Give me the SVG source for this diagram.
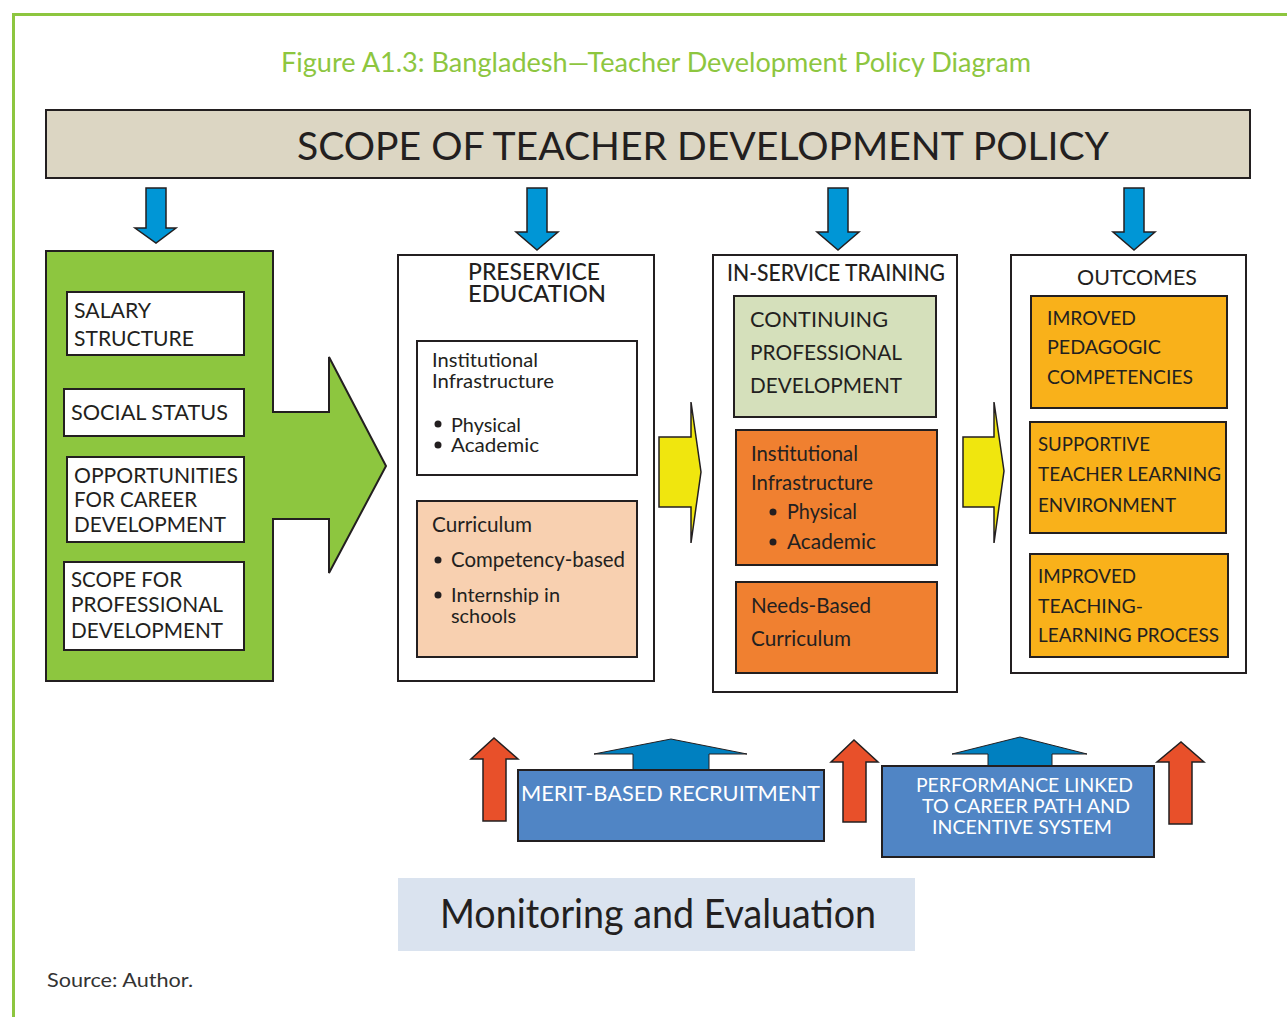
<svg xmlns="http://www.w3.org/2000/svg" width="1287" height="1017" viewBox="0 0 1287 1017">
<style>
text{font-family:Lato,"Open Sans","Liberation Sans",sans-serif;fill:#231f20}
.box{stroke:#231f20;stroke-width:2}
.t22{font-size:22px}
.t21{font-size:21px}
.t20{font-size:20px}
.wh{fill:#ffffff}
.blue{fill:#0096d6;stroke:#231f20;stroke-width:1.5}
.red{fill:#e8502a;stroke:#231f20;stroke-width:1.5}
.ylw{fill:#f0e60e;stroke:#231f20;stroke-width:1.5}
.ublue{fill:#0080c0;stroke:#231f20;stroke-width:1}
</style>
<rect x="0" y="0" width="1287" height="1017" fill="#ffffff"/>
<path d="M13.5 1017 V14.5 H1287" fill="none" stroke="#8dc63f" stroke-width="3"/>
<text x="281" y="72" font-size="27" textLength="750" lengthAdjust="spacingAndGlyphs" style="fill:#8dc63f">Figure A1.3: Bangladesh—Teacher Development Policy Diagram</text>

<g id="scope">
<rect x="46" y="110" width="1204" height="68" fill="#dcd6c3" class="box"/>
<text x="297" y="160" font-size="39" textLength="812" lengthAdjust="spacingAndGlyphs">SCOPE OF TEACHER DEVELOPMENT POLICY</text>
</g>

<g id="connectors">
<path class="blue" d="M146 188 H166 V228 H176 L156 243 L135 228 H146 Z"/>
<path class="blue" d="M527 188 H547 V232 H558 L537 250 L516 232 H527 Z"/>
<path class="blue" d="M828 188 H848 V232 H859 L838 250 L817 232 H828 Z"/>
<path class="blue" d="M1124 188 H1144 V232 H1155 L1134 250 L1113 232 H1124 Z"/>
<path class="ylw" d="M659 437 H691 V402 L701 472 L691 543 V507 H659 Z"/>
<path class="ylw" d="M963 437 H994 V402 L1004 471 L994 543 V507 H963 Z"/>
<path class="red" d="M483 821 V759 H471 L494 738 L518 759 H506 V821 Z"/>
<path class="red" d="M843 822 V762 H831 L854 740 L878 762 H866 V822 Z"/>
<path class="red" d="M1169 824 V762 H1157 L1181 742 L1204 762 H1192 V824 Z"/>
<path class="ublue" d="M633 770 V754 H594 L671 739 L747 754 H709 V770 Z"/>
<path class="ublue" d="M988 766 V754 H952 L1020 737 L1087 754 H1052 V766 Z"/>
</g>

<g id="factors">
<path d="M46 251 H273 V412 H329 V357 L386 466 L329 573 V519 H273 V681 H46 Z" fill="#8dc63f" class="box"/>
<rect x="67" y="292" width="177" height="63" fill="#fff" class="box"/>
<text class="t22" x="74" y="318" textLength="77" lengthAdjust="spacingAndGlyphs">SALARY</text>
<text class="t22" x="74" y="346" textLength="120" lengthAdjust="spacingAndGlyphs">STRUCTURE</text>
<rect x="64" y="389" width="180" height="47" fill="#fff" class="box"/>
<text class="t22" x="71" y="420" textLength="157" lengthAdjust="spacingAndGlyphs">SOCIAL STATUS</text>
<rect x="67" y="457" width="177" height="85" fill="#fff" class="box"/>
<text class="t22" x="74" y="483" textLength="164" lengthAdjust="spacingAndGlyphs">OPPORTUNITIES</text>
<text class="t22" x="74" y="507" textLength="123" lengthAdjust="spacingAndGlyphs">FOR CAREER</text>
<text class="t22" x="74" y="532" textLength="152" lengthAdjust="spacingAndGlyphs">DEVELOPMENT</text>
<rect x="64" y="562" width="180" height="88" fill="#fff" class="box"/>
<text class="t22" x="71" y="587" textLength="111" lengthAdjust="spacingAndGlyphs">SCOPE FOR</text>
<text class="t22" x="71" y="612" textLength="152" lengthAdjust="spacingAndGlyphs">PROFESSIONAL</text>
<text class="t22" x="71" y="638" textLength="152" lengthAdjust="spacingAndGlyphs">DEVELOPMENT</text>
</g>

<g id="preservice">
<rect x="398" y="255" width="256" height="426" fill="#fff" class="box"/>
<text x="468" y="280" font-size="23" font-weight="500" textLength="132" lengthAdjust="spacingAndGlyphs">PRESERVICE</text>
<text x="468" y="302" font-size="23" font-weight="500" textLength="138" lengthAdjust="spacingAndGlyphs">EDUCATION</text>
<rect x="417" y="341" width="220" height="134" fill="#fff" class="box"/>
<text class="t20" x="432" y="367" textLength="106" lengthAdjust="spacingAndGlyphs">Institutional</text>
<text class="t20" x="432" y="388" textLength="122" lengthAdjust="spacingAndGlyphs">Infrastructure</text>
<circle cx="438" cy="424" r="3.5" fill="#231f20"/>
<text class="t20" x="451" y="432" textLength="70" lengthAdjust="spacingAndGlyphs">Physical</text>
<circle cx="438" cy="445" r="3.5" fill="#231f20"/>
<text class="t20" x="451" y="452" textLength="88" lengthAdjust="spacingAndGlyphs">Academic</text>
<rect x="417" y="501" width="220" height="156" fill="#f8d0b0" class="box"/>
<text class="t21" x="432" y="532" textLength="100" lengthAdjust="spacingAndGlyphs">Curriculum</text>
<circle cx="438" cy="560" r="3.5" fill="#231f20"/>
<text class="t21" x="451" y="567" textLength="174" lengthAdjust="spacingAndGlyphs">Competency-based</text>
<circle cx="438" cy="595" r="3.5" fill="#231f20"/>
<text class="t20" x="451" y="602" textLength="109" lengthAdjust="spacingAndGlyphs">Internship in</text>
<text class="t20" x="451" y="623" textLength="65" lengthAdjust="spacingAndGlyphs">schools</text>
</g>

<g id="inservice">
<rect x="713" y="255" width="244" height="437" fill="#fff" class="box"/>
<text x="727" y="281" font-size="23" font-weight="500" textLength="218" lengthAdjust="spacingAndGlyphs">IN-SERVICE TRAINING</text>
<rect x="734" y="296" width="202" height="121" fill="#d5e0bb" class="box"/>
<text class="t22" x="750" y="327" textLength="138" lengthAdjust="spacingAndGlyphs">CONTINUING</text>
<text class="t22" x="750" y="360" textLength="152" lengthAdjust="spacingAndGlyphs">PROFESSIONAL</text>
<text class="t22" x="750" y="393" textLength="152" lengthAdjust="spacingAndGlyphs">DEVELOPMENT</text>
<rect x="736" y="430" width="201" height="135" fill="#f08030" class="box"/>
<text class="t21" x="751" y="461" textLength="107" lengthAdjust="spacingAndGlyphs">Institutional</text>
<text class="t21" x="751" y="490" textLength="122" lengthAdjust="spacingAndGlyphs">Infrastructure</text>
<circle cx="773" cy="512" r="3.5" fill="#231f20"/>
<text class="t21" x="787" y="519" textLength="70" lengthAdjust="spacingAndGlyphs">Physical</text>
<circle cx="773" cy="542" r="3.5" fill="#231f20"/>
<text class="t21" x="787" y="549" textLength="89" lengthAdjust="spacingAndGlyphs">Academic</text>
<rect x="736" y="582" width="201" height="91" fill="#f08030" class="box"/>
<text class="t21" x="751" y="613" textLength="120" lengthAdjust="spacingAndGlyphs">Needs-Based</text>
<text class="t21" x="751" y="646" textLength="100" lengthAdjust="spacingAndGlyphs">Curriculum</text>
</g>

<g id="outcomes">
<rect x="1011" y="255" width="235" height="418" fill="#fff" class="box"/>
<text x="1077" y="285" font-size="22" textLength="120" lengthAdjust="spacingAndGlyphs">OUTCOMES</text>
<rect x="1031" y="296" width="196" height="112" fill="#f9b11a" class="box"/>
<text class="t20" x="1047" y="325" textLength="89" lengthAdjust="spacingAndGlyphs">IMROVED</text>
<text class="t20" x="1047" y="354" textLength="114" lengthAdjust="spacingAndGlyphs">PEDAGOGIC</text>
<text class="t20" x="1047" y="384" textLength="146" lengthAdjust="spacingAndGlyphs">COMPETENCIES</text>
<rect x="1030" y="422" width="196" height="111" fill="#f9b11a" class="box"/>
<text class="t20" x="1038" y="451" textLength="112" lengthAdjust="spacingAndGlyphs">SUPPORTIVE</text>
<text class="t20" x="1038" y="481" textLength="183" lengthAdjust="spacingAndGlyphs">TEACHER LEARNING</text>
<text class="t20" x="1038" y="512" textLength="138" lengthAdjust="spacingAndGlyphs">ENVIRONMENT</text>
<rect x="1030" y="554" width="198" height="103" fill="#f9b11a" class="box"/>
<text class="t20" x="1038" y="583" textLength="98" lengthAdjust="spacingAndGlyphs">IMPROVED</text>
<text class="t20" x="1038" y="613" textLength="105" lengthAdjust="spacingAndGlyphs">TEACHING-</text>
<text class="t20" x="1038" y="642" textLength="181" lengthAdjust="spacingAndGlyphs">LEARNING PROCESS</text>
</g>

<g id="merit">
<rect x="518" y="770" width="306" height="71" fill="#5085c5" class="box"/>
<text x="521" y="801" font-size="22" class="wh" textLength="299" lengthAdjust="spacingAndGlyphs">MERIT-BASED RECRUITMENT</text>
</g>

<g id="performance">
<rect x="882" y="766" width="272" height="91" fill="#5085c5" class="box"/>
<text x="916" y="792" font-size="20" class="wh" textLength="217" lengthAdjust="spacingAndGlyphs">PERFORMANCE LINKED</text>
<text x="922" y="813" font-size="20" class="wh" textLength="208" lengthAdjust="spacingAndGlyphs">TO CAREER PATH AND</text>
<text x="932" y="834" font-size="20" class="wh" textLength="180" lengthAdjust="spacingAndGlyphs">INCENTIVE SYSTEM</text>
</g>

<g id="monitoring">
<rect x="398" y="878" width="517" height="73" fill="#dae3ef"/>
<text x="440" y="928" font-size="40" textLength="436" lengthAdjust="spacingAndGlyphs">Monitoring and Evaluation</text>
</g>

<text x="47" y="987" font-size="20" textLength="146" lengthAdjust="spacingAndGlyphs" style="fill:#333">Source: Author.</text>
</svg>
